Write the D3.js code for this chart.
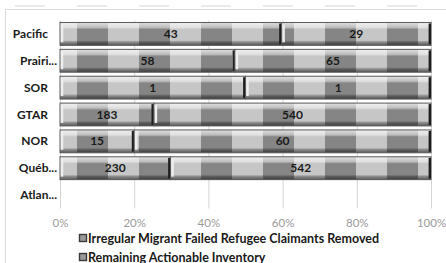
<!DOCTYPE html>
<html>
<head>
<meta charset="utf-8">
<script src="https://cdn.jsdelivr.net/npm/d3@7"></script>
<style>
  body { margin: 0; background: #fff; }
  text { font-family: Lato, "Noto Sans", sans-serif; }
</style>
</head>
<body>
<script>
// chart values
let regions = ['Pacific', 'Prairi...', 'SOR', 'GTAR', 'NOR', 'Québ...', 'Atlan...'];
let removed = [43, 58, 1, 183, 15, 230, 0];
let remaining = [29, 65, 1, 540, 60, 542, 0];
let seriesNames = ['Irregular Migrant Failed Refugee Claimants Removed', 'Remaining Actionable Inventory'];
let ticks = [0, 0.2, 0.4, 0.6, 0.8, 1];

let w = 446;
let h = 263;
let svg = d3.select('body').append('svg')
  .attr('width', w)
  .attr('height', h);

// outer chart frame + the dashed strip above it
svg.append('rect')
  .attr('x', 5.5).attr('y', 9.5)
  .attr('width', 460).attr('height', 280)
  .attr('fill', 'none').attr('stroke', '#dcdcdc');
svg.append('line')
  .attr('x1', 15).attr('x2', 446).attr('y1', 6).attr('y2', 6)
  .attr('stroke', '#d6d6d6').attr('stroke-width', 1.2)
  .attr('stroke-dasharray', '30,32');

// scales
let x = d3.scaleLinear().domain([0, 1]).range([60, 431]);
let y = d3.scaleBand().domain(regions).range([20.5, 208.5]).paddingInner(0.15).paddingOuter(0.075);

// patterns: checker blocks + bevel shading
let defs = svg.append('defs');
let pat = defs.append('pattern')
  .attr('id', 'checker')
  .attr('patternUnits', 'userSpaceOnUse')
  .attr('x', 15).attr('y', 0)
  .attr('width', 62).attr('height', 263);
pat.append('rect').attr('width', 62).attr('height', 263).attr('fill', '#c6c6c6');
pat.append('rect').attr('width', 31).attr('height', 263).attr('fill', '#858585');

let shade = defs.append('linearGradient')
  .attr('id', 'shade')
  .attr('x1', 0).attr('x2', 0).attr('y1', 0).attr('y2', 1);
[[0, '#fff', 0.75], [0.22, '#fff', 0.45], [0.3, '#fff', 0], [0.78, '#000', 0], [0.86, '#000', 0.3], [1, '#000', 0.55]]
  .forEach(s => shade.append('stop')
    .attr('offset', s[0]).attr('stop-color', s[1]).attr('stop-opacity', s[2]));

// gridlines
let grid = svg.append('g')
  .attr('transform', 'translate(0,208.5)')
  .call(d3.axisBottom(x).tickValues(ticks).tickSize(-188).tickFormat(''));
grid.select('.domain').remove();
grid.selectAll('line').attr('stroke', '#d4d4d4');

// x axis labels
let xAxis = svg.append('g')
  .attr('transform', 'translate(0,216)')
  .call(d3.axisBottom(x).tickValues(ticks).tickSize(0).tickFormat(d3.format('.0%')));
xAxis.select('.domain').remove();
xAxis.selectAll('text')
  .attr('fill', '#9a9a9a')
  .style('font-size', '11.5px');

// stacked 100% data
let data = regions.map((r, i) => {
  let tot = removed[i] + remaining[i];
  return { region: r, vals: [removed[i], remaining[i]], tot };
});

let segs = [];
data.forEach(d => {
  if (!d.tot) return;
  let acc = 0;
  d.vals.forEach((v, k) => {
    segs.push({ region: d.region, v, k, x0: acc / d.tot, x1: (acc + v) / d.tot });
    acc += v;
  });
});

let bars = svg.selectAll('.seg')
  .data(segs)
  .enter()
  .append('g')
  .classed('seg', true);

bars.append('rect')
  .attr('x', d => x(d.x0))
  .attr('y', d => y(d.region))
  .attr('width', d => x(d.x1) - x(d.x0))
  .attr('height', y.bandwidth())
  .attr('fill', 'url(#checker)');
bars.append('rect')
  .attr('x', d => x(d.x0))
  .attr('y', d => y(d.region))
  .attr('width', d => x(d.x1) - x(d.x0))
  .attr('height', y.bandwidth())
  .attr('fill', 'url(#shade)')
  .attr('stroke', '#5a5a5a')
  .attr('stroke-width', 1);
// left highlight
bars.append('line')
  .attr('x1', d => x(d.x0) + 2).attr('x2', d => x(d.x0) + 2)
  .attr('y1', d => y(d.region) + 2).attr('y2', d => y(d.region) + y.bandwidth() - 3)
  .attr('stroke', '#eeeeee').attr('stroke-width', 2.5);
// right dark edge
bars.append('line')
  .attr('x1', d => x(d.x1) - 1.2).attr('x2', d => x(d.x1) - 1.2)
  .attr('y1', d => y(d.region) + 1).attr('y2', d => y(d.region) + y.bandwidth() - 1)
  .attr('stroke', '#1e1e1e').attr('stroke-width', 2.4);

// value labels
svg.selectAll('.val')
  .data(segs)
  .enter()
  .append('text')
  .classed('val', true)
  .attr('x', d => (x(d.x0) + x(d.x1)) / 2)
  .attr('y', d => y(d.region) + y.bandwidth() / 2 + 4)
  .attr('text-anchor', 'middle')
  .style('font-size', '12px')
  .style('font-weight', 'bold')
  .attr('fill', '#1a1a1a')
  .text(d => d.v);

// category labels
svg.selectAll('.cat')
  .data(regions)
  .enter()
  .append('text')
  .classed('cat', true)
  .attr('x', d => d.endsWith('...') ? 57 : 48)
  .attr('y', d => y(d) + y.bandwidth() / 2 + 4)
  .attr('text-anchor', 'end')
  .style('font-size', '12px')
  .style('font-weight', 'bold')
  .attr('fill', '#1a1a1a')
  .text(d => d);

// legend
let legend = svg.selectAll('.leg')
  .data(seriesNames)
  .enter()
  .append('g')
  .classed('leg', true)
  .attr('transform', (d, i) => `translate(79,${238 + i * 19})`);
legend.append('rect')
  .attr('x', 0.5).attr('y', -3.5).attr('width', 7).attr('height', 7)
  .attr('fill', '#9a9a9a').attr('stroke', '#3a3a3a').attr('stroke-width', 1.4);
legend.append('text')
  .attr('x', 9).attr('y', 4.5)
  .style('font-size', '12.5px')
  .style('font-weight', 'bold')
  .attr('fill', '#1a1a1a')
  .text(d => d);
</script>
</body>
</html>
